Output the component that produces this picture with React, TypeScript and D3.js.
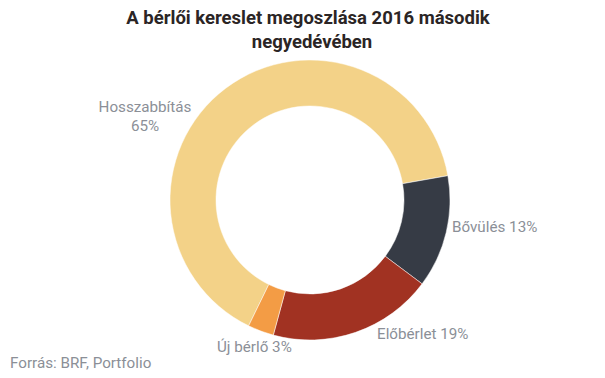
import React from "react";
import * as d3 from "d3";

const categories = ["Hosszabbítás", "Bővülés", "Előbérlet", "Új bérlő"];
const values = [65, 13, 19, 3];
const colors = ["#F3D288", "#363B45", "#A13222", "#F39C45"];

const W = 605;
const H = 378;

export default function App() {
  const cx = 310;
  const cy = 200;
  const outerR = 140;
  const innerR = 94;
  const start = (206 * Math.PI) / 180;
  const pie = d3
    .pie<number>()
    .sort(null)
    .startAngle(start)
    .endAngle(start + 2 * Math.PI)(values);
  const arc = d3.arc<d3.PieArcDatum<number>>().innerRadius(innerR).outerRadius(outerR);
  const labelFont = "Roboto, sans-serif";
  const labelColor = "#8b8f97";
  return (
    <svg width={W} height={H} style={{ position: "absolute", left: 0, top: 0 }}>
      <rect width={W} height={H} fill="#fff" />
      <g fontFamily={labelFont} fontWeight={700} fontSize={18.5} fill="#2b2525" textAnchor="middle">
        <text x={308} y={24}>A bérlői kereslet megoszlása 2016 második</text>
        <text x={312} y={48}>negyedévében</text>
      </g>
      <g transform={`translate(${cx},${cy})`}>
        {pie.map((d, i) => (
          <path key={categories[i]} d={arc(d) || ""} fill={colors[i]} stroke="#fff" strokeWidth={0.5} />
        ))}
      </g>
      <g fontFamily={labelFont} fontSize={15.2} fill={labelColor}>
        <text x={145} y={112} textAnchor="middle">{categories[0]}</text>
        <text x={145} y={131} textAnchor="middle">{values[0]}%</text>
        <text x={452} y={232}>{`${categories[1]} ${values[1]}%`}</text>
        <text x={377} y={339}>{`${categories[2]} ${values[2]}%`}</text>
        <text x={217} y={352}>{`${categories[3]} ${values[3]}%`}</text>
        <text x={10} y={368}>Forrás: BRF, Portfolio</text>
      </g>
    </svg>
  );
}
